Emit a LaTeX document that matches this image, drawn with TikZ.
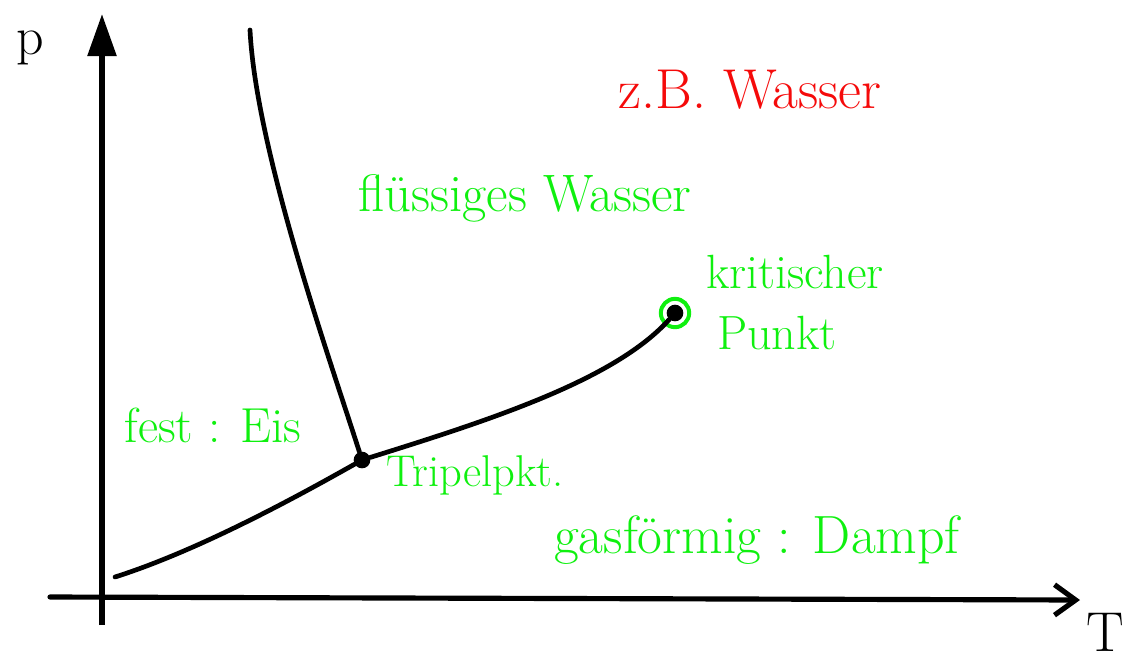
\documentclass[tikz,border=0pt]{standalone}
\usepackage{fontspec}
\usetikzlibrary{arrows.meta}
\definecolor{stiftgruen}{RGB}{15,240,15}
\definecolor{stiftrot}{RGB}{245,10,10}
\begin{document}
\begin{tikzpicture}[x=0.03cm, y=-0.03cm,
  gruen/.style={text=stiftgruen, inner sep=0pt},
  punkt/.style={circle, fill=black, inner sep=0pt, minimum size=0.5cm},
  phase/.style={line width=4pt, line cap=round}]
\useasboundingbox (0,0) rectangle (1128,662);
\coordinate (ur) at (102,625);
\coordinate (pspitze) at (102,14);
\coordinate (links) at (50,597);
\coordinate (tspitze) at (1080,600);
\coordinate (schmelz) at (250,30);
\coordinate (subl) at (115,577);
\draw[line width=4.8pt, -{Triangle[length=36pt, width=24pt]}] (ur) -- (pspitze);
\draw[line width=4.4pt, line cap=round, -{Straight Barb[length=18pt, width=26pt]}] (links) -- (tspitze);
\node[inner sep=0pt, font=\fontsize{46}{50}\selectfont] (p) at (30,48) {p};
\node[inner sep=0pt, font=\fontsize{48}{52}\selectfont] (T) at (1105,632) {T};
\node[punkt] (tp) at (362,460) {};
\node[punkt] (kp) at (675,313) {};
\node[circle, draw=stiftgruen, line width=3.4pt, minimum size=0.85cm, inner sep=0pt] (kpring) at (kp) {};
\draw[phase] (schmelz) .. controls (256,150) and (330,360) .. (tp);
\draw[phase] (subl) .. controls (200,550) and (300,495) .. (tp);
\draw[phase] (tp) .. controls (490,420) and (615,380) .. (kp);
\node[text=stiftrot, inner sep=0pt, font=\fontsize{48}{52}\selectfont] (bsp) at (750,90) {z.B. Wasser};
\node[gruen, font=\fontsize{45}{49}\selectfont] (fluessig) at (525,198) {flüssiges Wasser};
\node[gruen, font=\fontsize{41}{45}\selectfont] (krit) at (795,272) {kritischer};
\node[gruen, font=\fontsize{41}{45}\selectfont] (krit2) at (777,333) {Punkt};
\node[gruen, font=\fontsize{42}{46}\selectfont] (fest) at (213,425) {fest : Eis};
\node[gruen, font=\fontsize{38}{42}\selectfont] (tripel) at (475,475) {Tripelpkt.};
\node[gruen, font=\fontsize{46}{50}\selectfont] (gas) at (757,540) {gasförmig : Dampf};
\end{tikzpicture}
\end{document}
